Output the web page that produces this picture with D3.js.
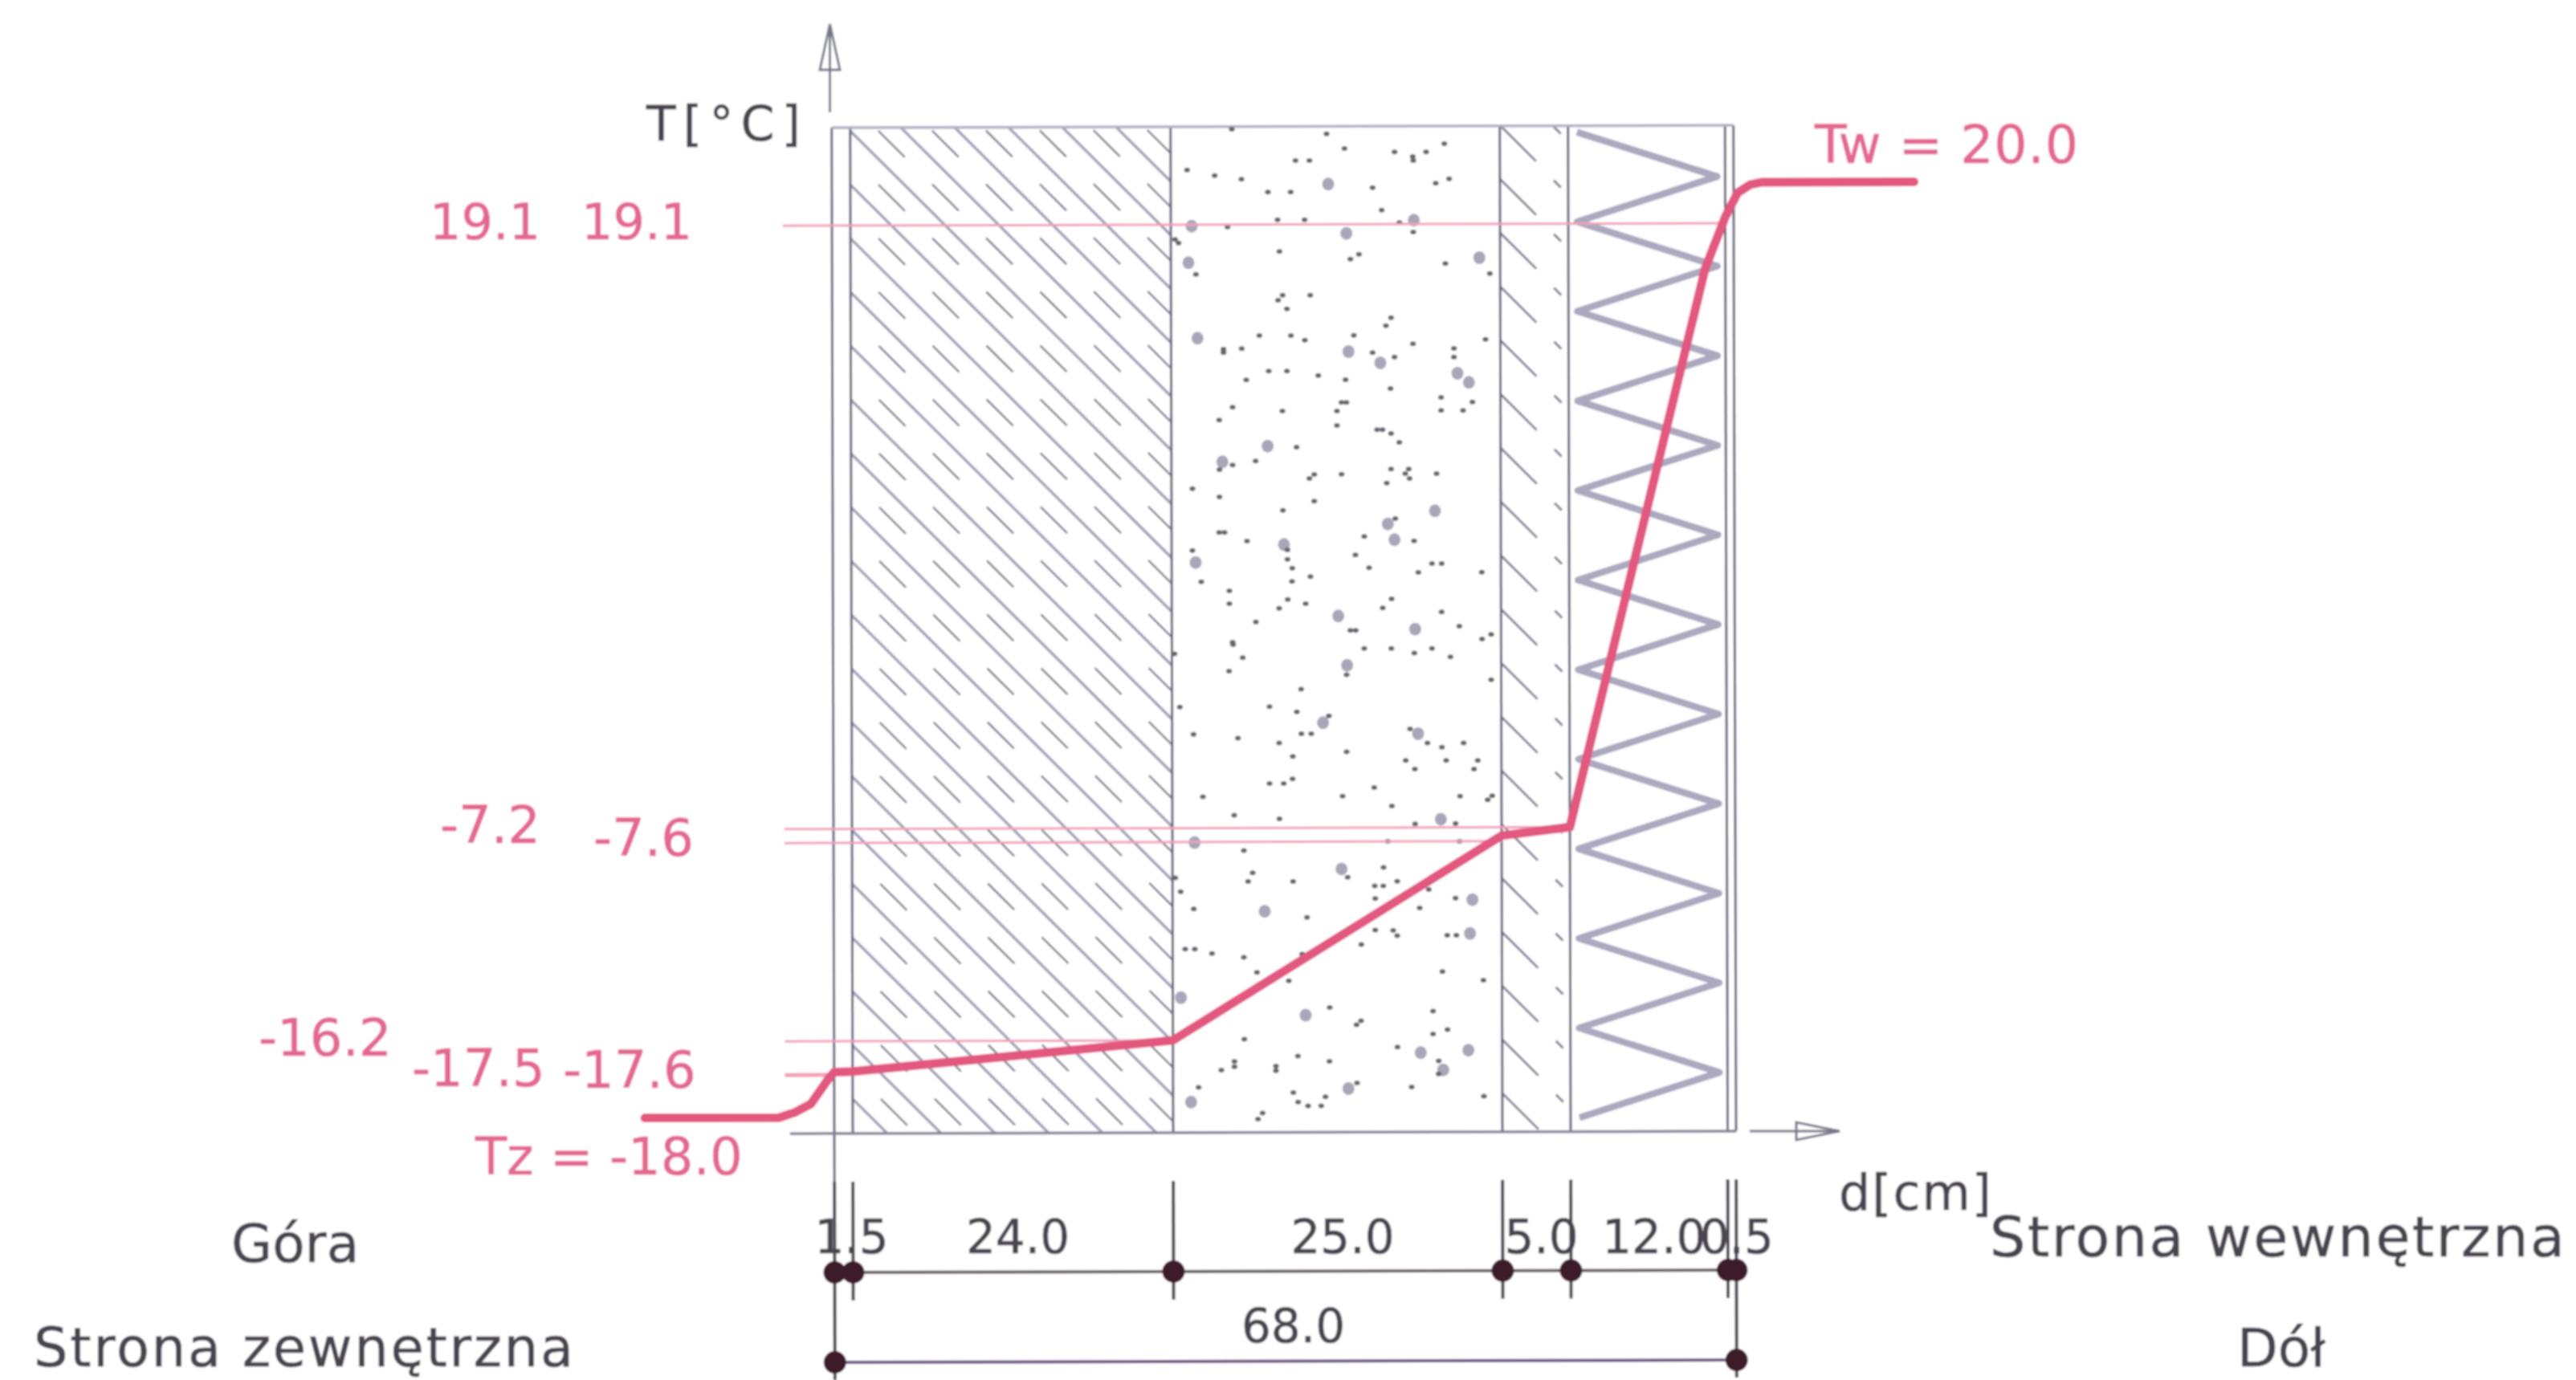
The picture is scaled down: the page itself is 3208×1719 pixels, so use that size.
<!DOCTYPE html>
<html>
  <head>
    <meta charset="utf-8">
    <script src="https://d3js.org/d3.v7.min.js"></script>
    <style>
      body { margin: 0; background: #fff; }
      svg { display: block; }
      text { font-family: "DejaVu Sans", sans-serif; stroke-width: 0.7; }
    </style>
  </head>
  <body>
    <svg width="3208" height="1719"></svg>
    <script>
    // wall layers, thickness in cm, outside -> inside
    const layerThickness = [1.5, 24.0, 25.0, 5.0, 12.0, 0.5];
    const layerLabels = ['1.5', '24.0', '25.0', '5.0', '12.0', '0.5'];
    const totalLabel = '68.0';

    // temperature levels marked with thin lines, and how far each line runs (cm)
    const levelTemps = [19.1, -7.2, -7.6, -16.2, -17.5, -17.6];
    const levelEnds = [67.5, 55.5, 50.5, 25.5, 1.5, 0];

    // temperature profile
    const profileD = [-15.4, -4.5, -3.2, -1.9, -0.59, 0, 1.5, 25.5, 50.5, 55.5, 65.96, 67.5, 68.24, 69, 69.7, 78.7];
    const profileT = [-18, -18, -17.95, -17.87, -17.65, -17.42, -17.4, -16.2, -7.44, -7.2, 17.14, 19.24, 19.77, 19.95, 20, 20];

    // the drawing is not to scale, so both scales are piecewise
    const edgeD = [-16, 0, 1.5, 25.5, 50.5, 55.5, 67.5, 68, 80];
    const edgePx = [794, 1039, 1062, 1461, 1871, 1956, 2151.5, 2162, 2414];
    const tempD = [-18, -17.6, -17.5, -16.2, -7.6, -7.2, 19.1, 20];
    const tempPx = [1392, 1340, 1338, 1297, 1050, 1032.7, 281, 230];

    const smallTop = [[342,33],[696,50],[763,105],[1136,87],[950,118],[1068,118],[1018,135],[1020,150],[580,150],[632,150],[175,185],[278,206],[378,220],[1104,235],[1154,218],[477,268],[562,268],[868,251],[902,335],[513,371],[614,371],[326,398],[968,382],[1020,417],[130,445]];
    const bigTop = [[702,238],[192,395],[1022,373],[770,422]];
    const smallMid = [[143,8],[520,40],[785,68],[817,50],[1140,85],[208,125],[1306,122],[532,203],[515,222],[635,203],[548,254],[937,287],[918,317],[445,354],[563,354],[615,371],[798,353],[1290,368],[1019,385],[311,405],[311,418],[379,403],[868,418],[950,434],[1172,402],[1172,434],[480,487],[548,487],[665,503],[396,520],[767,519],[935,552],[1124,585],[752,604],[770,604],[1241,602],[345,622],[531,636],[735,636],[1124,634],[1206,634],[295,670],[735,690],[885,706],[905,706],[937,720],[968,753],[584,771],[431,823],[345,838],[296,855],[937,853],[1003,853],[990,870],[1006,888],[752,872],[1107,870],[650,873],[632,888],[921,905],[195,926],[296,957],[650,973],[533,1007],[953,1038],[295,1090],[315,1090],[399,1122],[837,1105],[1023,1121],[195,1157],[550,1155],[804,1174],[550,1190],[568,1223],[855,1222],[1090,1206],[1126,1206],[1039,1239],[1276,1238],[636,1255],[228,1274],[567,1273],[333,1308],[333,1356],[551,1340],[618,1356],[519,1373],[939,1338],[906,1372],[1126,1387],[432,1424],[1192,1440],[785,1456],[805,1456],[1277,1488],[1311,1471],[345,1500]];
    const bigMid = [[180,82],[1267,63],[214,364],[778,414],[897,456],[1185,495],[1228,529],[476,767],[307,826],[1101,1009],[925,1058],[950,1117],[537,1135],[207,1202],[740,1402],[1027,1451]];
    const smallLow = [[128,38],[347,8],[383,50],[332,94],[837,20],[938,20],[1024,35],[1090,20],[1159,48],[771,106],[1311,122],[601,153],[148,211],[483,210],[585,227],[705,240],[199,300],[365,312],[602,298],[639,298],[519,328],[1008,282],[1073,328],[1127,342],[1208,328],[771,357],[570,372],[992,385],[1143,385],[1261,385],[1026,413],[1247,413],[483,460],[536,460],[569,445],[874,473],[234,503],[756,501],[1195,501],[1315,500],[1298,513],[940,533],[351,563],[520,575],[1027,591],[1178,590],[925,648],[1193,648],[387,678],[420,751],[403,779],[131,767],[571,779],[775,765],[909,733],[876,793],[908,793],[960,778],[151,812],[878,834],[1178,833],[200,868],[1044,865],[623,896],[1078,805],[878,937],[945,938],[960,955],[1147,954],[1181,954],[826,984],[168,999],[204,999],[268,1013],[387,1026],[605,1015],[436,1075],[1129,1072],[555,1102],[1282,1100],[708,1189],[1094,1201],[825,1232],[808,1245],[1148,1261],[1094,1275],[389,1292],[961,1318],[589,1347],[707,1364],[1115,1363],[1115,1405],[303,1393],[352,1365],[352,1382],[507,1380],[507,1395],[218,1449],[810,1435],[1014,1448],[572,1466],[692,1480],[1284,1478],[590,1497],[627,1509],[676,1509],[457,1533],[440,1552]];
    const bigLow = [[773,75],[683,262],[1038,298],[1123,576],[203,652],[752,738],[465,876],[1241,838],[1232,948],[152,1157],[618,1214],[1048,1336],[1226,1328],[1132,1392],[778,1453],[190,1497]];

    const x = d3.scaleLinear().domain(edgeD).range(edgePx);
    const y = d3.scaleLinear().domain(tempD).range(tempPx);

    const wallEdges = d3.cumsum(layerThickness);
    const allEdges = [0, ...wallEdges];
    const wallTop = 159, wallBottom = 1412;
    const dimY = 1585, totalY = 1697;
    const pink = '#e2587f', thinPink = '#f3a0b8', dark = '#4a4450', wallLine = '#62627c', hatchLine = '#a0a0b6';

    const svg = d3.select('svg');
    const defs = svg.append('defs');
    defs.append('filter').attr('id', 'scan')
      .attr('x', 0).attr('y', 0).attr('width', 1).attr('height', 1)
      .attr('filterUnits', 'objectBoundingBox')
      .append('feGaussianBlur').attr('stdDeviation', 0.9);
    defs.append('clipPath').attr('id', 'layer1').append('rect')
      .attr('x', x(1.5)).attr('y', wallTop).attr('width', x(25.5) - x(1.5)).attr('height', wallBottom - wallTop);
    defs.append('clipPath').attr('id', 'layer3').append('rect')
      .attr('x', x(50.5)).attr('y', wallTop).attr('width', x(55.5) - x(50.5)).attr('height', wallBottom - wallTop);

    const root = svg.append('g').attr('filter', 'url(#scan)');
    root.append('rect').attr('width', 3208).attr('height', 1719).attr('fill', '#fff');

    // the scan sits a little crooked
    const wall = root.append('g').attr('transform', `rotate(-0.15 ${x(0)} ${wallBottom})`);

    // brick hatch
    const step = 67;
    const hatch1 = wall.append('g').attr('clip-path', 'url(#layer1)');
    hatch1.selectAll('line.long').data(d3.range(-1301, 351, step)).enter().append('line')
      .attr('class', 'long')
      .attr('x1', x(1.5)).attr('y1', c => x(1.5) + c)
      .attr('x2', x(25.5)).attr('y2', c => x(25.5) + c)
      .attr('stroke', hatchLine).attr('stroke-width', 3.5);
    const dashCells = d3.cross(d3.range(0, 6), d3.range(0, 19));
    hatch1.selectAll('line.short').data(dashCells).enter().append('line')
      .attr('class', 'short')
      .attr('x1', d => x(1.5) + 35 + d[0] * step).attr('y1', d => 163 + d[1] * step)
      .attr('x2', d => x(1.5) + 68 + d[0] * step).attr('y2', d => 196 + d[1] * step)
      .attr('stroke', '#7c7c92').attr('stroke-width', 2.5);

    const hatch3 = wall.append('g').attr('clip-path', 'url(#layer3)');
    hatch3.selectAll('line.long').data(d3.range(0, 19)).enter().append('line')
      .attr('class', 'long')
      .attr('x1', x(50.5)).attr('y1', j => 158 + j * step)
      .attr('x2', x(50.5) + 45).attr('y2', j => 203 + j * step)
      .attr('stroke', '#858499').attr('stroke-width', 3);
    hatch3.selectAll('line.short').data(d3.range(0, 19)).enter().append('line')
      .attr('class', 'short')
      .attr('x1', x(50.5) + 67).attr('y1', j => 160 + j * step)
      .attr('x2', x(50.5) + 76).attr('y2', j => 169 + j * step)
      .attr('stroke', '#858499').attr('stroke-width', 3);

    // insulation zigzag
    const zigzag = d3.range(0, 23).map(i => [
      i % 2 ? x(67.5) - 10 : x(55.5) + 11,
      167 + i * 55.8
    ]);
    wall.append('path').attr('d', d3.line()(zigzag))
      .attr('fill', 'none').attr('stroke', '#aca8bf').attr('stroke-width', 8.5)
      .attr('stroke-linejoin', 'round');

    // wall outline
    wall.selectAll('line.edge').data(allEdges).enter().append('line')
      .attr('class', 'edge')
      .attr('x1', d => x(d)).attr('x2', d => x(d))
      .attr('y1', wallTop)
      .attr('y2', (d, i) => i === 0 ? 1472 : wallBottom)
      .attr('stroke', wallLine).attr('stroke-width', 3);
    wall.append('line').attr('x1', x(0)).attr('x2', x(68)).attr('y1', wallTop).attr('y2', wallTop)
      .attr('stroke', '#b0b0c4').attr('stroke-width', 3.5);
    wall.append('line').attr('x1', x(-3.6)).attr('x2', x(68)).attr('y1', wallBottom).attr('y2', wallBottom)
      .attr('stroke', '#85859a').attr('stroke-width', 3.5);

    // concrete stones, crop readings mapped back to the page
    const cropX = d3.scaleLinear().domain([0, 1500]).range([1420, 1920]);
    const cropTopY = d3.scaleLinear().domain([0, 465]).range([150, 305]);
    const cropMidY = d3.scaleLinear().domain([0, 1500]).range([300, 800]);
    const cropLowY = d3.scaleLinear().domain([0, 1568]).range([800, 1400]);
    const stones = root.append('g');
    function drawStones(points, yScale, rx, ry, fill) {
      stones.append('g').selectAll('ellipse').data(points).enter().append('ellipse')
        .attr('cx', d => cropX(d[0])).attr('cy', d => yScale(d[1]))
        .attr('rx', rx).attr('ry', ry).attr('fill', fill);
    }
    [[bigTop, smallTop, cropTopY], [bigMid, smallMid, cropMidY], [bigLow, smallLow, cropLowY]].forEach(s => {
      drawStones(s[0], s[2], 7.5, 8, '#a8a6b8');
      drawStones(s[1], s[2], 3.7, 3, '#66666f');
    });

    // thin level lines
    const overlay = root.append('g').attr('transform', `rotate(-0.15 ${x(0)} ${wallBottom})`);
    overlay.selectAll('line.level').data(levelTemps).enter().append('line')
      .attr('class', 'level')
      .attr('x1', x(-4)).attr('x2', (d, i) => x(levelEnds[i]))
      .attr('y1', d => y(d)).attr('y2', d => y(d))
      .attr('stroke', thinPink).attr('stroke-width', 3);

    // temperature profile
    const profile = d3.line().x(d => x(d[0])).y(d => y(d[1]));
    overlay.append('path').attr('d', profile(d3.zip(profileD, profileT)))
      .attr('fill', 'none').attr('stroke', pink).attr('stroke-width', 11)
      .attr('stroke-linecap', 'round').attr('stroke-linejoin', 'round');

    // dimension lines under the wall
    const dims = overlay.append('g');
    dims.selectAll('line.tick').data(allEdges).enter().append('line')
      .attr('class', 'tick')
      .attr('x1', d => x(d)).attr('x2', d => x(d))
      .attr('y1', 1472)
      .attr('y2', d => (d === 0 || d === 68) ? 1719 : 1620)
      .attr('stroke', dark).attr('stroke-width', 4);
    dims.append('line').attr('x1', x(0)).attr('x2', x(68)).attr('y1', dimY).attr('y2', dimY)
      .attr('stroke', '#6a6260').attr('stroke-width', 4);
    dims.append('line').attr('x1', x(0)).attr('x2', x(68)).attr('y1', totalY).attr('y2', totalY)
      .attr('stroke', '#6d5482').attr('stroke-width', 4);
    dims.selectAll('circle.dim').data(allEdges).enter().append('circle')
      .attr('class', 'dim')
      .attr('cx', d => x(d)).attr('cy', dimY).attr('r', 14).attr('fill', '#3d1f2b');
    dims.selectAll('circle.total').data([0, 68]).enter().append('circle')
      .attr('class', 'total')
      .attr('cx', d => x(d)).attr('cy', totalY).attr('r', 14).attr('fill', '#3d1f2b');

    // axis arrows
    const arrows = root.append('g').attr('fill', '#fff').attr('stroke', '#77778a').attr('stroke-width', 3);
    arrows.append('path').attr('d', d3.line()([[1033.5, 87], [1021, 87], [1033.5, 30], [1046, 87], [1033.5, 87]]));
    arrows.append('line').attr('x1', 1033.5).attr('x2', 1033.5).attr('y1', 140).attr('y2', 34);
    arrows.append('path').attr('d', d3.line()([[2237, 1409], [2237, 1398], [2291, 1409], [2237, 1420], [2237, 1409]]));
    arrows.append('line').attr('x1', 2179).attr('x2', 2287).attr('y1', 1409).attr('y2', 1409);

    // texts
    const texts = root.append('g');
    function label(str, px, py, size, fill, opts) {
      opts = opts || {};
      const t = texts.append('text').attr('x', px).attr('y', py)
        .attr('font-size', size).attr('fill', fill).attr('stroke', fill)
        .attr('text-anchor', opts.anchor || 'start').text(str);
      if (opts.width) t.attr('textLength', opts.width).attr('lengthAdjust', 'spacing');
      return t;
    }
    const labelPink = '#e4688f';
    label('T[°C]', 805, 175, 60, dark, { width: 192 });
    label('Tw = 20.0', 2260, 203, 65, labelPink, { width: 328 });
    label('Tz = -18.0', 592, 1463, 64, labelPink);
    label(`${levelTemps[0]}`, 535, 298, 62, labelPink);
    label(`${levelTemps[0]}`, 724, 298, 62, labelPink);
    label(`${levelTemps[1]}`, 548, 1050, 64, labelPink);
    label(`${levelTemps[2]}`, 739, 1066, 64, labelPink);
    label(`${levelTemps[3]}`, 322, 1315, 64, labelPink);
    label(`${levelTemps[4]}`, 513, 1353, 64, labelPink);
    label(`${levelTemps[5]}`, 701, 1355, 64, labelPink);

    layerLabels.forEach((s, i) => {
      const start = allEdges[i], end = allEdges[i + 1];
      const nudge = i === 0 ? 10 : 6;
      label(s, (x(start) + x(end)) / 2 + nudge, 1561, 58, dark, { anchor: 'middle' });
    });
    label(totalLabel, (x(0) + x(68)) / 2 + 10, 1672, 58, dark, { anchor: 'middle' });

    label('d[cm]', 2290, 1507, 62, dark, { width: 190 });
    label('Strona wewnętrzna', 2478, 1565, 70, dark, { width: 716 });
    label('Dół', 2786, 1702, 66, dark);
    label('Góra', 288, 1572, 66, dark);
    label('Strona zewnętrzna', 42, 1702, 67, dark, { width: 672 });
    </script>
  </body>
</html>
